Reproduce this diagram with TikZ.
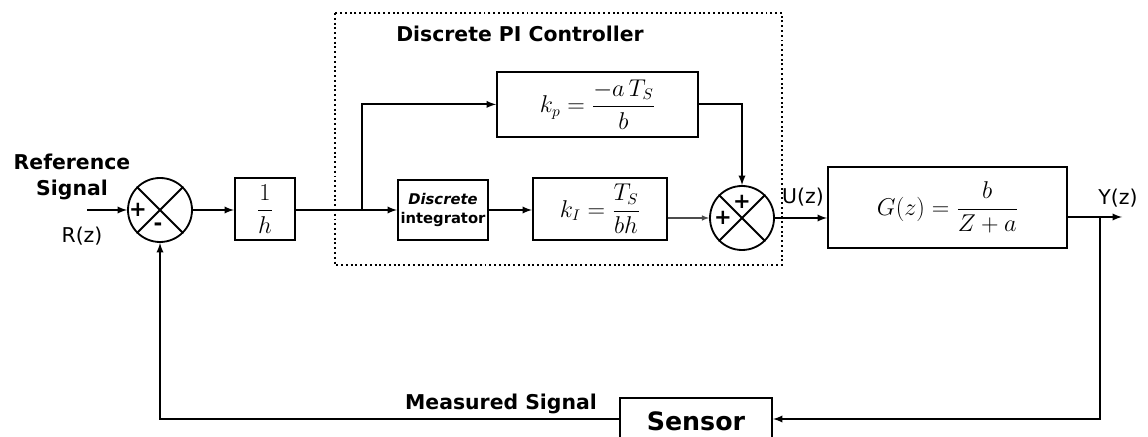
\documentclass[tikz,border=0pt]{standalone}
\usepackage{amsmath}
\usepackage{fontspec}
\setmainfont{DejaVu Sans}
\usetikzlibrary{shapes}
\usetikzlibrary{arrows}
\usetikzlibrary{positioning}
\tikzset{
  block_node/.style = {rectangle, draw=black, line width=1.5pt, align=center,
    inner sep=0pt, font=\fontsize{16}{18}\selectfont},% bloc de transfert
  sum_node/.style = {circle, draw=black, line width=1.3pt,
    minimum size=1.6cm, inner sep=0pt},% sommateur
  sign_label/.style = {inner sep=0pt, font=\fontsize{15}{15}\selectfont\bfseries},% signe + / -
  title_label/.style = {align=center, inner sep=0pt,
    font=\fontsize{14.5}{18.5}\selectfont\bfseries},% titre en gras
  signal_label/.style = {inner sep=0pt, font=\fontsize{14.5}{16}\selectfont},% nom du signal
  wire/.style = {line width=1.3pt, -latex}% fleche
}

\begin{document}
\begin{tikzpicture}
  \clip (0,0) rectangle (28.7,-10.925);
  % cadre du correcteur PI
  \draw[dotted, line width=1.4pt] (8.375,-0.325) rectangle (19.55,-6.625);
  \node [title_label] (pi_title) at (13.0,-0.85) {Discrete PI Controller};

  \node [sum_node] (sum_in) at (4.0,-5.25) {};
  \draw[line width=1.3pt] (sum_in.north west) -- (sum_in.south east)
    (sum_in.north east) -- (sum_in.south west);
  \node [sign_label] at ([xshift=-0.55cm]sum_in.center) {+};
  \node [sign_label] at ([xshift=-0.05cm, yshift=-0.42cm]sum_in.center) {-};

  \node [block_node, minimum width=1.5cm, minimum height=1.55cm] (inv_h)
    at (6.625,-5.225) {$\dfrac{1}{h}$};
  \node [block_node, minimum width=5.025cm, minimum height=1.625cm] (kp)
    at (14.94,-2.61) {$\displaystyle k_p = \frac{-a\,T_S}{b}$};
  \node [block_node, minimum width=2.25cm, minimum height=1.5cm,
    font=\fontsize{10.5}{13}\selectfont\bfseries] (integ)
    at (11.075,-5.25) {\textit{Discrete}\\integrator};
  \node [block_node, minimum width=3.35cm, minimum height=1.55cm] (ki)
    at (15.0,-5.225) {$k_I = \dfrac{T_S}{bh}$};

  \node [sum_node] (sum_out) at (18.55,-5.45) {};
  \draw[line width=1.3pt] (sum_out.north west) -- (sum_out.south east)
    (sum_out.north east) -- (sum_out.south west);
  \node [sign_label] at ([yshift=0.4cm]sum_out.center) {+};
  \node [sign_label] at ([xshift=-0.475cm]sum_out.center) {+};

  \node [block_node, minimum width=5.975cm, minimum height=2.025cm] (plant)
    at (23.69,-5.19) {$G(z) = \dfrac{b}{Z+a}$};
  \node [block_node, minimum width=3.8cm, minimum height=1.15cm,
    font=\fontsize{18}{20}\selectfont\bfseries] (sensor)
    at (17.4,-10.525) {Sensor};

  \node [title_label] (ref_label) at (1.8,-4.42) {Reference\\Signal};
  \node [signal_label] (r_label) at (2.05,-5.9) {R(z)};
  \node [signal_label] (u_label) at (20.075,-4.925) {U(z)};
  \node [signal_label] (y_label) at (27.95,-4.95) {Y(z)};
  \node [title_label] (meas_label) at (12.525,-10.1) {Measured Signal};

  \coordinate (r_in) at (2.175,-5.25);
  \coordinate (split_kp) at (9.05,-5.25);
  \coordinate (split_y) at (27.5,-5.425);
  \coordinate (y_out) at (28.05,-5.425);
  \coordinate (fb_corner) at (27.5,-10.475);

  \draw[wire] (r_in) -- (sum_in);
  \draw[wire] (sum_in) -- (inv_h.west |- sum_in);
  \draw[line width=1.3pt] (inv_h.east |- sum_in) -- (split_kp);
  \draw[wire] (split_kp) -- (integ);
  \draw[wire] (split_kp) |- (kp);
  \draw[wire] (integ) -- (ki.west |- integ);
  \draw[wire, line width=0.8pt, gray!60!black] (ki.east |- sum_out) -- (sum_out);
  \draw[wire] (kp) -| (sum_out);
  \draw[wire] (sum_out) -- (sum_out -| plant.west);
  \draw[wire] (plant.east |- y_out) -- (y_out);
  \draw[wire] (split_y) -- (fb_corner) -- (fb_corner -| sensor.east);
  \draw[wire] (sensor.west |- fb_corner) -| (sum_in.south);
\end{tikzpicture}
\end{document}
